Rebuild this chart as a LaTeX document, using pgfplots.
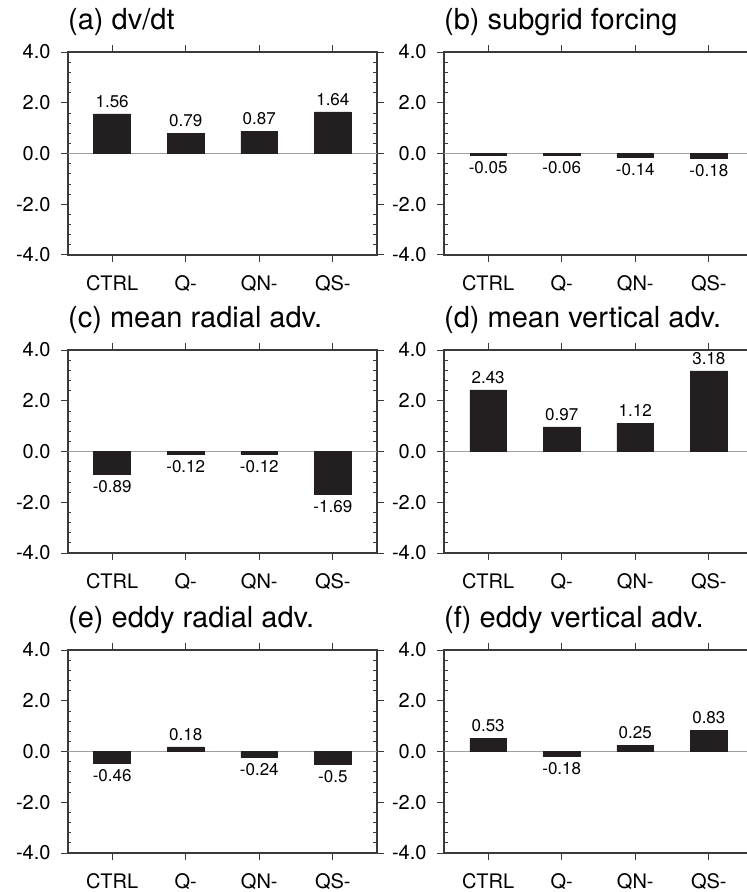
\documentclass[border=0pt]{standalone}
\usepackage{fontspec}
\setmainfont{TeX Gyre Heros}
\usepackage{pgfplots}
\pgfplotsset{compat=1.18}
\definecolor{barc}{HTML}{231F20}
\definecolor{axc}{HTML}{3A3A3A}
\pgfplotsset{
 panel/.style={
  scale only axis, width=309pt, height=203pt,
  xmin=-0.6, xmax=3.6, ymin=-4, ymax=4,
  axis line style={axc, line width=1.1pt},
  xtick={0,1,2,3}, xticklabels={CTRL,Q-,QN-,QS-},
  ytick={-4,-2,0,2,4}, yticklabels={-4.0,-2.0,0.0,2.0,4.0},
  tick align=outside, major tick length=7pt,
  tick style={axc, line width=1pt},
  extra y ticks={-3.6,-3.2,-2.8,-2.4,-1.6,-1.2,-0.8,-0.4,0.4,0.8,1.2,1.6,2.4,2.8,3.2,3.6},
  extra y tick labels={},
  extra y tick style={tick align=inside, major tick length=3.5pt, tick style={axc, line width=0.8pt}},
  ticklabel style={font=\fontsize{20}{23}\selectfont},
  yticklabel style={xshift=-7pt},
  xticklabel style={yshift=-10pt},
  title style={at={(rel axis cs:0,1)}, anchor=base west, inner sep=0pt, yshift=17pt, font=\fontsize{29}{32}\selectfont},
  clip=false,
 },
 bars/.style={ybar, bar width=0.5, fill=barc, draw=barc, line width=0.5pt,
  point meta=y, nodes near coords, nodes near coords align=vertical,
  nodes near coords style={font=\fontsize{17}{20}\selectfont, text=black, inner sep=6pt,
   /pgf/number format/.cd, fixed, precision=2, assume math mode=true}},
 zl/.style={gray!75, line width=1pt, forget plot}
}
\begin{document}
\begin{tikzpicture}
% (a)
\begin{axis}[panel, at={(68pt,-52pt)}, anchor=north west, title={(a) dv/dt}]
\addplot[zl] coordinates {(-0.6,0) (3.6,0)};
\addplot[bars] coordinates {(0,1.56) (1,0.79) (2,0.87) (3,1.64)};
\end{axis}
% (b)
\begin{axis}[panel, at={(444pt,-52pt)}, anchor=north west, title={(b) subgrid forcing}]
\addplot[zl] coordinates {(-0.6,0) (3.6,0)};
\addplot[bars] coordinates {(0,-0.05) (1,-0.06) (2,-0.14) (3,-0.18)};
\end{axis}
% (c)
\begin{axis}[panel, at={(68pt,-350pt)}, anchor=north west, title={(c) mean radial adv.}]
\addplot[zl] coordinates {(-0.6,0) (3.6,0)};
\addplot[bars] coordinates {(0,-0.89) (1,-0.12) (2,-0.12) (3,-1.69)};
\end{axis}
% (d)
\begin{axis}[panel, at={(444pt,-350pt)}, anchor=north west, title={(d) mean vertical adv.}]
\addplot[zl] coordinates {(-0.6,0) (3.6,0)};
\addplot[bars] coordinates {(0,2.43) (1,0.97) (2,1.12) (3,3.18)};
\end{axis}
% (e)
\begin{axis}[panel, at={(68pt,-650pt)}, anchor=north west, title={(e) eddy radial adv.}]
\addplot[zl] coordinates {(-0.6,0) (3.6,0)};
\addplot[bars] coordinates {(0,-0.46) (1,0.18) (2,-0.24) (3,-0.5)};
\end{axis}
% (f)
\begin{axis}[panel, at={(444pt,-650pt)}, anchor=north west, title={(f) eddy vertical adv.}]
\addplot[zl] coordinates {(-0.6,0) (3.6,0)};
\addplot[bars] coordinates {(0,0.53) (1,-0.18) (2,0.25) (3,0.83)};
\end{axis}
\pgfresetboundingbox
\useasboundingbox (0,0) rectangle (747pt,-892pt);
\end{tikzpicture}
\end{document}
